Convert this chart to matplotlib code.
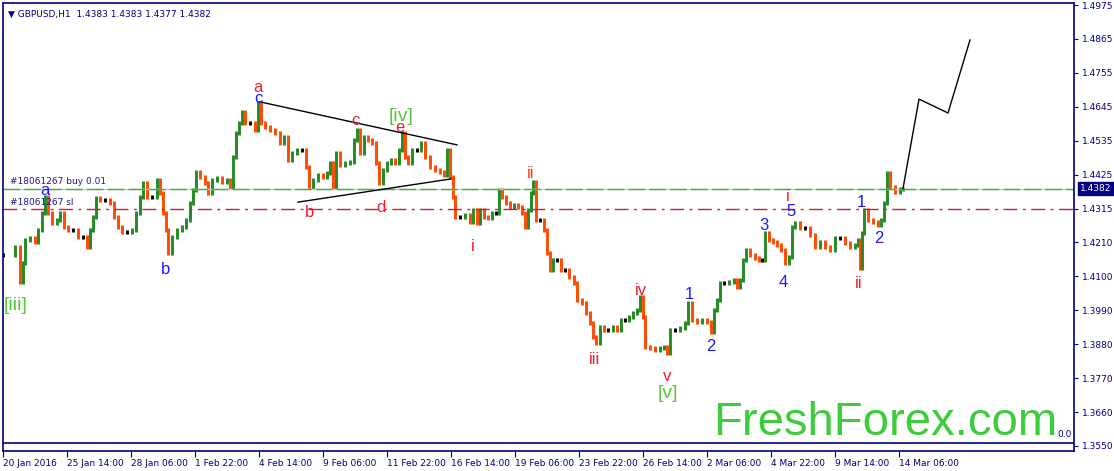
import matplotlib
matplotlib.use('Agg')
import matplotlib.pyplot as plt
import numpy as np

# hourly bar index (0 = first bar on the chart) and close
bar_idx = [0, 12, 17, 20, 22, 27, 32, 35, 39, 42, 45, 49, 54, 57, 61, 65, 70, 75, 80, 84,
           87, 90, 93, 97, 102, 107, 111, 115, 119, 124, 129, 133, 137, 140, 144, 149, 154, 157, 160, 163,
           165, 169, 174, 179, 183, 187, 190, 193, 197, 202, 205, 209, 214, 219, 224, 227, 230, 233, 236, 239,
           242, 247, 252, 255, 258, 262, 267, 272, 277, 281, 285, 289, 294, 299, 303, 306, 310, 315, 320, 324,
           327, 330, 333, 337, 342, 347, 351, 354, 357, 361, 365, 369, 373, 376, 380, 384, 388, 392, 396, 399,
           402, 405, 409, 414, 418, 422, 427, 432, 437, 441, 444, 447, 450, 452, 457, 462, 467, 470, 474, 477,
           481, 485, 489, 493, 496, 499, 503, 507, 511, 515, 519, 522, 525, 528, 530, 533, 537, 541, 544, 547,
           550, 554, 558, 562, 566, 571, 574, 579, 583, 587, 590, 593, 597, 601, 605, 610, 614, 618, 622, 626,
           630, 634, 637, 640, 642, 647, 652, 657, 661, 664, 667, 672, 677, 682, 685, 689, 694, 699, 704, 708,
           711, 714, 717, 721, 726, 731, 734, 737, 740, 743, 747, 752, 756, 759, 762, 766, 770, 774, 778, 782,
           786, 789, 792, 797, 802, 807, 812, 817, 822, 827, 832, 837, 842, 847, 852, 855, 857, 859, 861, 865,
           870, 875, 878, 881, 884, 887, 892, 897, 900]
close = [1.4168, 1.4193, 1.4080, 1.4142, 1.4216, 1.4222, 1.4209, 1.4248, 1.4303, 1.4355,
         1.4303, 1.4271, 1.4280, 1.4303, 1.4258, 1.4248, 1.4248, 1.4226, 1.4226, 1.4193,
         1.4248, 1.4290, 1.4351, 1.4345, 1.4345, 1.4335, 1.4290, 1.4258, 1.4242, 1.4242,
         1.4248, 1.4303, 1.4355, 1.4400, 1.4355, 1.4355, 1.4410, 1.4368, 1.4303, 1.4248,
         1.4174, 1.4226, 1.4248, 1.4258, 1.4280, 1.4335, 1.4377, 1.4435, 1.4419, 1.4400,
         1.4368, 1.4410, 1.4416, 1.4403, 1.4410, 1.4387, 1.4484, 1.4561, 1.4594, 1.4629,
         1.4594, 1.4594, 1.4571, 1.4658, 1.4594, 1.4581, 1.4571, 1.4561, 1.4529, 1.4548,
         1.4474, 1.4497, 1.4507, 1.4507, 1.4452, 1.4387, 1.4410, 1.4426, 1.4419, 1.4432,
         1.4464, 1.4387, 1.4497, 1.4458, 1.4464, 1.4468, 1.4539, 1.4571, 1.4497, 1.4548,
         1.4539, 1.4529, 1.4464, 1.4400, 1.4442, 1.4464, 1.4474, 1.4464, 1.4507, 1.4561,
         1.4484, 1.4464, 1.4507, 1.4507, 1.4529, 1.4484, 1.4452, 1.4442, 1.4435, 1.4426,
         1.4507, 1.4419, 1.4355, 1.4290, 1.4290, 1.4297, 1.4274, 1.4313, 1.4271, 1.4313,
         1.4290, 1.4287, 1.4303, 1.4303, 1.4377, 1.4355, 1.4335, 1.4322, 1.4329, 1.4322,
         1.4303, 1.4258, 1.4313, 1.4368, 1.4403, 1.4280, 1.4280, 1.4248, 1.4174, 1.4119,
         1.4151, 1.4151, 1.4119, 1.4119, 1.4096, 1.4077, 1.4022, 1.4012, 1.3980, 1.3948,
         1.3902, 1.3883, 1.3935, 1.3925, 1.3925, 1.3935, 1.3925, 1.3957, 1.3957, 1.3967,
         1.3980, 1.3990, 1.4032, 1.3967, 1.3870, 1.3867, 1.3861, 1.3867, 1.3870, 1.3851,
         1.3925, 1.3925, 1.3932, 1.3948, 1.4012, 1.3957, 1.3951, 1.3957, 1.3951, 1.3919,
         1.3990, 1.4022, 1.4077, 1.4077, 1.4080, 1.4087, 1.4064, 1.4087, 1.4151, 1.4184,
         1.4168, 1.4158, 1.4151, 1.4151, 1.4238, 1.4216, 1.4209, 1.4200, 1.4184, 1.4142,
         1.4161, 1.4258, 1.4271, 1.4255, 1.4255, 1.4232, 1.4193, 1.4209, 1.4193, 1.4184,
         1.4222, 1.4222, 1.4206, 1.4193, 1.4200, 1.4216, 1.4125, 1.4238, 1.4313, 1.4280,
         1.4274, 1.4264, 1.4280, 1.4335, 1.4432, 1.4387, 1.4371, 1.4381, 1.4382]

# forecast path, triangle, order levels
proj_x = [900, 916, 945, 967]
proj_y = [1.4382, 1.4671, 1.4626, 1.4862]
tri_upper_x = [257, 454]
tri_upper_y = [1.4662, 1.4523]
tri_lower_x = [295, 448]
tri_lower_y = [1.4338, 1.4413]
buy_level = 1.4382
sl_level = 1.4315

# wave labels: text, bar, price, colour
waves = [
    ('[iii]', 13, 1.4003, 'g'), ('a', 42, 1.4377, 'b'), ('b', 163, 1.4119, 'b'),
    ('a', 255, 1.4707, 'r'), ('c', 255, 1.4674, 'b'), ('c', 352, 1.4603, 'r'),
    ('[iv]', 398, 1.4616, 'g'), ('e', 397, 1.4578, 'r'), ('b', 307, 1.4306, 'r'),
    ('d', 378, 1.4322, 'r'), ('i', 470, 1.4196, 'r'), ('ii', 528, 1.4429, 'o'),
    ('iii', 592, 1.3828, 'r'), ('iv', 638, 1.4054, 'r'), ('v', 664, 1.3773, 'r'),
    ('[v]', 665, 1.3718, 'g'), ('1', 686, 1.4041, 'b'), ('2', 708, 1.3873, 'b'),
    ('3', 761, 1.4261, 'b'), ('4', 780, 1.4077, 'b'), ('i', 785, 1.4355, 'r'),
    ('5', 788, 1.4309, 'b'), ('1', 858, 1.4338, 'b'), ('2', 876, 1.4222, 'b'),
    ('ii', 856, 1.4074, 'r'),
]

price_ticks = ['1.4975', '1.4865', '1.4755', '1.4645', '1.4535', '1.4425', '1.4315',
               '1.4210', '1.4100', '1.3990', '1.3880', '1.3770', '1.3660', '1.3550']
time_ticks = ['20 Jan 2016', '25 Jan 14:00', '28 Jan 06:00', '1 Feb 22:00', '4 Feb 14:00',
              '9 Feb 06:00', '11 Feb 22:00', '16 Feb 14:00', '19 Feb 06:00', '23 Feb 22:00',
              '26 Feb 14:00', '2 Mar 06:00', '4 Mar 22:00', '9 Mar 14:00', '14 Mar 06:00']

navy = '#000080'
W, H = 1114, 471
fig = plt.figure(figsize=(W / 100, H / 100), dpi=100)
ax = fig.add_axes([3 / W, (H - 451) / H, (1074 - 3) / W, (451 - 3) / H])
ax.set_xlim(0, 1071)
ax.set_ylim(1.35338, 1.49815)
for s in ax.spines.values():
    s.set_color(navy)
    s.set_linewidth(1.2)

# bars: each stroke runs from the previous close to this close, with a short wick
wick = 0.0006
prev = close[0]
for x, c in zip(bar_idx, close):
    lo, hi = min(prev, c), max(prev, c)
    col = '#238b23' if c > prev else ('#ff4a00' if c < prev else 'black')
    ax.vlines(x, lo - wick, hi + wick, colors=col, lw=2.1)
    prev = c

# order lines
ax.axhline(buy_level, color='#c8c8c8', lw=1)
ax.axhline(buy_level, color='#3cb43c', lw=1, dashes=(12, 3))
ax.axhline(sl_level, color='#c8203c', lw=1, dashes=(10, 4, 2, 4))
ax.text(7, buy_level + 0.0008, '#18061267 buy 0.01', fontsize=6.5, color='#1a1a8c', va='bottom')
ax.text(7, sl_level + 0.0008, '#18061267 sl', fontsize=6.5, color='#1a1a8c', va='bottom')

ax.plot(proj_x, proj_y, color='black', lw=1)
ax.plot(tri_upper_x, tri_upper_y, color='black', lw=1)
ax.plot(tri_lower_x, tri_lower_y, color='black', lw=1)

cols = {'r': '#f21c2c', 'o': '#ff3d10', 'b': '#1a1aff', 'g': '#55c83a'}
for t, x, y, c in waves:
    fs = 14 if c == 'g' else 12
    ax.text(x, y, t, color=cols[c], fontsize=fs, ha='center', va='center', family='Liberation Sans')

# indicator separator
ax.axhline(1.35597, color=navy, lw=1.2)
ax.text(1069, 1.3572, '0.0', fontsize=6.5, color=navy, ha='right', va='bottom')

ax.text(1054, 1.3584, 'FreshForex.com', fontsize=34, color='#3ccc3c', ha='right',
        va='baseline', family='Liberation Sans')

ax.text(5, 1.4945, '\u25bc GBPUSD,H1  1.4383 1.4383 1.4377 1.4382', fontsize=6.5, color=navy,
        va='center')

# axes ticks
step = (1.4975 - 1.3550) / 13
ax.yaxis.tick_right()
ax.set_yticks([1.4975 - i * step for i in range(14)], price_ticks)
ax.tick_params(axis='y', length=3, color=navy, labelcolor=navy, labelsize=6.5, pad=3)
ax.set_xticks([64 * i for i in range(15)], time_ticks)
ax.tick_params(axis='x', length=4, color=navy, labelcolor=navy, labelsize=6.5, pad=2)
for lab in ax.get_xticklabels():
    lab.set_ha('left')

# current price box
ax.text(1.006, (buy_level - 1.35338) / (1.49815 - 1.35338), '1.4382', transform=ax.transAxes,
        fontsize=6.5, color='white', va='center', ha='left',
        bbox=dict(boxstyle='square,pad=0.25', fc=navy, ec=navy))

fig.savefig('out.png', dpi=100)
